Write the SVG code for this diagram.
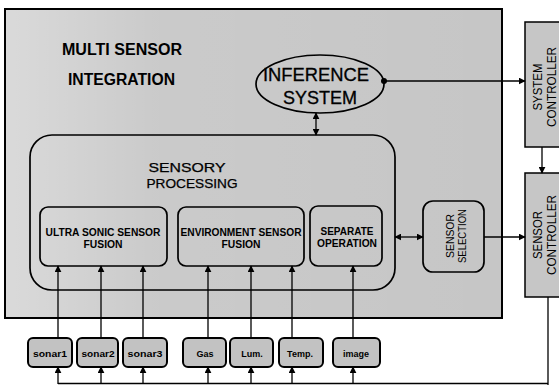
<svg xmlns="http://www.w3.org/2000/svg" width="559" height="385" viewBox="0 0 559 385">
  <defs>
    <marker id="arrow" viewBox="0 0 10 10" refX="9" refY="5" markerWidth="7" markerHeight="7" markerUnits="userSpaceOnUse" orient="auto-start-reverse">
      <path d="M0,0 L10,5 L0,10 z" fill="#000"/>
    </marker>
    <marker id="dot" viewBox="0 0 10 10" refX="5" refY="5" markerWidth="6" markerHeight="6" markerUnits="userSpaceOnUse">
      <circle cx="5" cy="5" r="5" fill="#000"/>
    </marker>
    <linearGradient id="haze" x1="0" y1="0" x2="1" y2="0">
      <stop offset="0" stop-color="#fff" stop-opacity="0.35"/>
      <stop offset="0.3" stop-color="#fff" stop-opacity="0.08"/>
      <stop offset="1" stop-color="#fff" stop-opacity="0"/>
    </linearGradient>
    <style>
      .frame { fill: #c6c6c6; stroke: #000; stroke-width: 2; }
      .box { fill: none; stroke: #000; stroke-width: 1.7; }
      .ctrl { fill: #c6c6c6; stroke: #000; stroke-width: 1.5; }
      .sensor { fill: #c2c2c2; stroke: #000; stroke-width: 2; }
      .wire { fill: none; stroke: #000; stroke-width: 1.3; }
      .title { font-family: "Liberation Sans", Arial, sans-serif; font-weight: bold; font-size: 16px; fill: #000; }
      .big { font-family: "Liberation Sans", Arial, sans-serif; font-size: 18px; fill: #000; stroke: #000; stroke-width: 0.3; text-anchor: middle; }
      .mid { font-family: "Liberation Sans", Arial, sans-serif; font-size: 13px; fill: #000; stroke: #000; stroke-width: 0.25; text-anchor: middle; }
      .lbl { font-family: "Liberation Sans", Arial, sans-serif; font-weight: bold; font-size: 10.5px; fill: #000; text-anchor: middle; }
      .rot { font-family: "Liberation Sans", Arial, sans-serif; font-size: 12px; fill: #000; text-anchor: middle; }
      .rots { font-family: "Liberation Sans", Arial, sans-serif; font-size: 10px; fill: #000; text-anchor: middle; }
      .tiny { font-family: "Liberation Sans", Arial, sans-serif; font-weight: bold; font-size: 9px; fill: #000; text-anchor: middle; }
    </style>
  </defs>

  <rect width="559" height="385" fill="#fff"/>

  <!-- outer integration frame -->
  <g id="multi-sensor-integration">
    <rect class="frame" x="5" y="9" width="497" height="309"/>
    <rect x="6" y="10" width="495" height="307" fill="url(#haze)"/>
    <text class="title" x="62" y="55" textLength="120" lengthAdjust="spacingAndGlyphs">MULTI SENSOR</text>
    <text class="title" x="68" y="85" textLength="107" lengthAdjust="spacingAndGlyphs">INTEGRATION</text>
  </g>

  <g id="inference-system">
    <ellipse class="box" cx="320" cy="84" rx="64" ry="29"/>
    <text class="big" x="316" y="81" textLength="106" lengthAdjust="spacingAndGlyphs">INFERENCE</text>
    <text class="big" x="320" y="104" textLength="74" lengthAdjust="spacingAndGlyphs">SYSTEM</text>
  </g>

  <g id="sensory-processing">
    <rect class="box" x="30" y="135" width="365" height="155" rx="22"/>
    <text class="mid" x="187" y="172" textLength="77" lengthAdjust="spacingAndGlyphs">SENSORY</text>
    <text class="mid" x="192" y="188" textLength="91" lengthAdjust="spacingAndGlyphs">PROCESSING</text>
  </g>

  <g id="ultrasonic-fusion">
    <rect class="box" x="40" y="207" width="127" height="59" rx="8"/>
    <text class="lbl" x="103" y="236" textLength="115" lengthAdjust="spacingAndGlyphs">ULTRA SONIC SENSOR</text>
    <text class="lbl" x="103" y="248" textLength="39" lengthAdjust="spacingAndGlyphs">FUSION</text>
  </g>

  <g id="environment-fusion">
    <rect class="box" x="178" y="207" width="126" height="59" rx="8"/>
    <text class="lbl" x="241" y="236" textLength="121" lengthAdjust="spacingAndGlyphs">ENVIRONMENT SENSOR</text>
    <text class="lbl" x="241" y="248" textLength="39" lengthAdjust="spacingAndGlyphs">FUSION</text>
  </g>

  <g id="separate-operation">
    <rect class="box" x="310" y="206" width="72" height="60" rx="8"/>
    <text class="lbl" x="347" y="235" textLength="53" lengthAdjust="spacingAndGlyphs">SEPARATE</text>
    <text class="lbl" x="347" y="247" textLength="60" lengthAdjust="spacingAndGlyphs">OPERATION</text>
  </g>

  <g id="sensor-selection">
    <rect class="box" x="423" y="201" width="61" height="71" rx="10"/>
    <g transform="translate(456 236) rotate(-90)">
      <text class="rots" x="0" y="-2" textLength="44" lengthAdjust="spacingAndGlyphs">SENSOR</text>
      <text class="rots" x="0" y="10" textLength="54" lengthAdjust="spacingAndGlyphs">SELECTION</text>
    </g>
  </g>

  <g id="system-controller">
    <rect class="ctrl" x="525" y="22" width="40" height="125"/>
    <g transform="translate(544 87) rotate(-90)">
      <text class="rot" x="0" y="-2" textLength="47" lengthAdjust="spacingAndGlyphs">SYSTEM</text>
      <text class="rot" x="0" y="12" textLength="80" lengthAdjust="spacingAndGlyphs">CONTROLLER</text>
    </g>
  </g>

  <g id="sensor-controller">
    <rect class="ctrl" x="525" y="173" width="40" height="124"/>
    <g transform="translate(544 235) rotate(-90)">
      <text class="rot" x="0" y="-2" textLength="48" lengthAdjust="spacingAndGlyphs">SENSOR</text>
      <text class="rot" x="0" y="12" textLength="80" lengthAdjust="spacingAndGlyphs">CONTROLLER</text>
    </g>
  </g>

  <!-- physical sensors -->
  <g id="sonar1">
    <rect class="sensor" x="28" y="338" width="44" height="29" rx="5"/>
    <text class="tiny" x="50" y="357" textLength="34" lengthAdjust="spacingAndGlyphs">sonar1</text>
  </g>
  <g id="sonar2">
    <rect class="sensor" x="77" y="338" width="41" height="29" rx="5"/>
    <text class="tiny" x="98" y="357" textLength="33" lengthAdjust="spacingAndGlyphs">sonar2</text>
  </g>
  <g id="sonar3">
    <rect class="sensor" x="123" y="338" width="44" height="29" rx="5"/>
    <text class="tiny" x="145" y="357" textLength="35" lengthAdjust="spacingAndGlyphs">sonar3</text>
  </g>
  <g id="gas">
    <rect class="sensor" x="183" y="338" width="43" height="29" rx="5"/>
    <text class="tiny" x="205" y="357">Gas</text>
  </g>
  <g id="lum">
    <rect class="sensor" x="230" y="338" width="43" height="29" rx="5"/>
    <text class="tiny" x="252" y="357">Lum.</text>
  </g>
  <g id="temp">
    <rect class="sensor" x="279" y="338" width="44" height="29" rx="5"/>
    <text class="tiny" x="300" y="357">Temp.</text>
  </g>
  <g id="image">
    <rect class="sensor" x="333" y="338" width="47" height="29" rx="5"/>
    <text class="tiny" x="356" y="357">image</text>
  </g>

  <g id="connectors">
    <line class="wire" x1="316" y1="113" x2="316" y2="135" marker-start="url(#arrow)" marker-end="url(#arrow)"/>
    <line class="wire" x1="384" y1="81" x2="525" y2="81" marker-start="url(#dot)" marker-end="url(#arrow)"/>
    <line class="wire" x1="542" y1="147" x2="542" y2="173" marker-end="url(#arrow)"/>
    <line class="wire" x1="395" y1="237" x2="423" y2="237" marker-start="url(#arrow)" marker-end="url(#arrow)"/>
    <line class="wire" x1="484" y1="237" x2="525" y2="237" marker-end="url(#arrow)"/>
    <line class="wire" x1="548" y1="297" x2="548" y2="385"/>
    <line class="wire" x1="58" y1="383.5" x2="548" y2="383.5" stroke="#666"/>

    <!-- sensor feeds into fusion blocks -->
    <line class="wire" x1="58" y1="338" x2="58" y2="266" marker-end="url(#arrow)"/>
    <line class="wire" x1="101" y1="338" x2="101" y2="266" marker-end="url(#arrow)"/>
    <line class="wire" x1="143" y1="338" x2="143" y2="266" marker-end="url(#arrow)"/>
    <line class="wire" x1="208" y1="338" x2="208" y2="266" marker-end="url(#arrow)"/>
    <line class="wire" x1="251" y1="338" x2="251" y2="266" marker-end="url(#arrow)"/>
    <line class="wire" x1="292" y1="338" x2="292" y2="266" marker-end="url(#arrow)"/>
    <line class="wire" x1="353" y1="338" x2="353" y2="266" marker-end="url(#arrow)"/>

    <!-- controller bus into each sensor -->
    <line class="wire" x1="58" y1="384" x2="58" y2="367" marker-end="url(#arrow)"/>
    <line class="wire" x1="101" y1="384" x2="101" y2="367" marker-end="url(#arrow)"/>
    <line class="wire" x1="143" y1="384" x2="143" y2="367" marker-end="url(#arrow)"/>
    <line class="wire" x1="208" y1="384" x2="208" y2="367" marker-end="url(#arrow)"/>
    <line class="wire" x1="251" y1="384" x2="251" y2="367" marker-end="url(#arrow)"/>
    <line class="wire" x1="292" y1="384" x2="292" y2="367" marker-end="url(#arrow)"/>
    <line class="wire" x1="353" y1="384" x2="353" y2="367" marker-end="url(#arrow)"/>
  </g>
</svg>
